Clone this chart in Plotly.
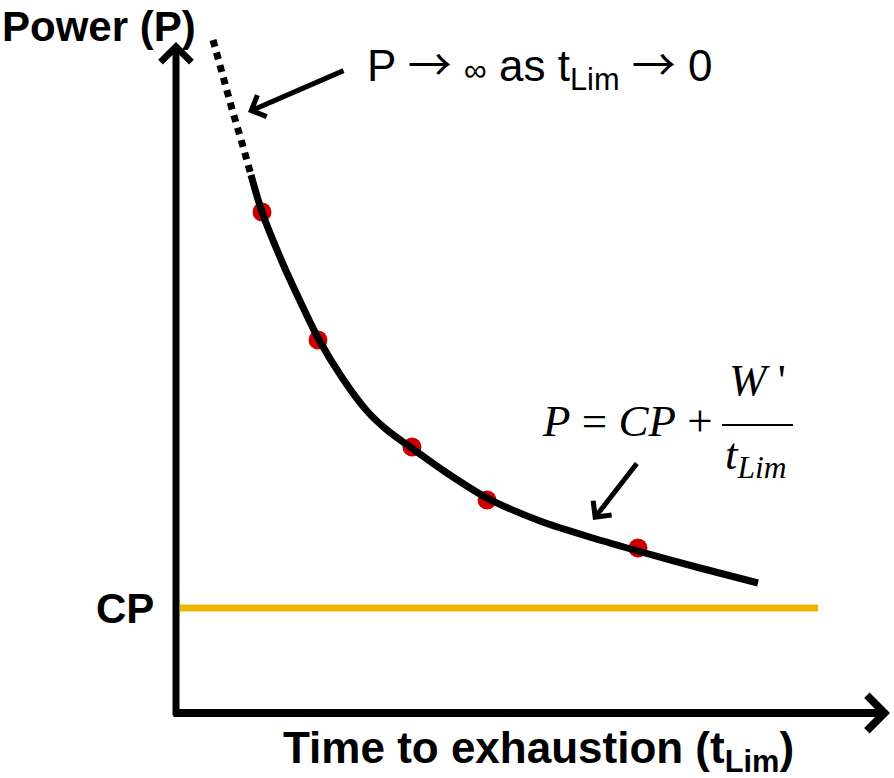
"""
    Critical power model: power vs time to exhaustion
"""

import plotly.graph_objs as go

# Schematic units (no scale on the axes)
CP = 105

# Measured trials (red dots)
trial_t = [86, 142, 236, 311, 462]
trial_p = [501, 373, 266, 213, 165]

# Hyperbolic fit, drawn part
fit_t = [75, 86, 107, 124, 142, 167, 191, 211, 237, 271, 311, 364, 417, 462, 524, 582]
fit_p = [538, 501, 449, 412, 375, 334, 302, 283, 264, 240, 215, 192, 175, 162, 145, 130]

# Extrapolation towards t -> 0 (dotted)
extra_t = [37, 46, 56, 66, 75]
extra_p = [673, 638, 604, 570, 538]

# CP asymptote extent
cp_t = [4, 642]

SANS = "Liberation Sans, Arial, sans-serif"
SERIF = "Liberation Serif, Times New Roman, serif"
ARROW = "<span style='font-family:Noto Sans CJK SC'>\u2192</span>"
INF = "<span style='font-size:32px'>\u221e</span>"

data = [
    go.Scatter(
        x=cp_t, y=[CP, CP], mode="lines", line={"color": "#EDB400", "width": 7}, hoverinfo="skip"
    ),
    go.Scatter(
        x=trial_t,
        y=trial_p,
        mode="markers",
        marker={"color": "#CC0000", "size": 19},
        hoverinfo="skip",
    ),
    go.Scatter(
        x=fit_t,
        y=fit_p,
        mode="lines",
        line={"color": "black", "width": 7, "shape": "spline", "smoothing": 0.8},
        hoverinfo="skip",
    ),
    go.Scatter(
        x=extra_t,
        y=extra_p,
        mode="lines",
        line={"color": "black", "width": 7, "dash": "7px,6px"},
        hoverinfo="skip",
    ),
]

annotations = [
    # axes with arrow heads
    dict(
        x=0, y=671, ax=0, ay=-4, xref="x", yref="y", axref="x", ayref="y", text="",
        showarrow=True, arrowhead=4, arrowwidth=7, arrowsize=0.85, arrowcolor="black",
    ),
    dict(
        x=714, y=0, ax=-4, ay=0, xref="x", yref="y", axref="x", ayref="y", text="",
        showarrow=True, arrowhead=4, arrowwidth=8, arrowsize=0.85, arrowcolor="black",
    ),
    # axis labels
    dict(
        x=0, y=0.999, xref="paper", yref="paper", xanchor="left", yanchor="top", showarrow=False,
        text="<b>Power (P)</b>", font={"family": SANS, "size": 42, "color": "black"},
    ),
    dict(
        x=-20, y=CP, xref="x", yref="y", xanchor="right", yanchor="middle", showarrow=False,
        text="<b>CP</b>", font={"family": SANS, "size": 42, "color": "black"},
    ),
    dict(
        x=362, y=-8, xref="x", yref="y", xanchor="center", yanchor="top", showarrow=False,
        text="<b>Time to exhaustion (t<sub>Lim</sub>)</b>",
        font={"family": SANS, "size": 44, "color": "black"},
    ),
    # limit note
    dict(
        x=72, y=601, ax=169, ay=643, xref="x", yref="y", axref="x", ayref="y", text="",
        showarrow=True, arrowhead=4, arrowwidth=5, arrowsize=0.9, arrowcolor="black",
    ),
    dict(
        x=189, y=650, xref="x", yref="y", xanchor="left", yanchor="middle", showarrow=False,
        text="P " + ARROW + " " + INF + " as t<sub>Lim</sub> " + ARROW + " 0",
        font={"family": SANS, "size": 44, "color": "black"},
    ),
    # model equation
    dict(
        x=417, y=193, ax=462, ay=251, xref="x", yref="y", axref="x", ayref="y", text="",
        showarrow=True, arrowhead=4, arrowwidth=5, arrowsize=0.9, arrowcolor="black",
    ),
    dict(
        x=539, y=292, xref="x", yref="y", xanchor="right", yanchor="middle", showarrow=False,
        text="<i>P</i> = <i>CP</i> +", font={"family": SERIF, "size": 45, "color": "black"},
    ),
    dict(
        x=581, y=306, xref="x", yref="y", xanchor="center", yanchor="bottom", showarrow=False,
        text="<i>W</i> '", font={"family": SERIF, "size": 45, "color": "black"},
    ),
    dict(
        x=580, y=286, xref="x", yref="y", xanchor="center", yanchor="top", showarrow=False,
        text="<i>t<sub>Lim</sub></i>", font={"family": SERIF, "size": 45, "color": "black"},
    ),
]

shapes = [
    # fraction bar
    dict(type="line", x0=546, x1=617, y0=288, y1=288, xref="x", yref="y",
         line={"color": "black", "width": 2}),
]

layout = go.Layout(
    width=894,
    height=778,
    margin={"l": 0, "r": 0, "t": 0, "b": 0},
    paper_bgcolor="white",
    plot_bgcolor="white",
    showlegend=False,
    xaxis={"range": [-176, 718], "visible": False, "fixedrange": True},
    yaxis={"range": [-65, 713], "visible": False, "fixedrange": True},
    annotations=annotations,
    shapes=shapes,
)

fig = go.Figure(data=data, layout=layout)
fig.write_html(
    "out.html",
    config={"displayModeBar": False},
    post_script="document.body.style.margin='0';document.body.style.overflow='hidden';",
)
